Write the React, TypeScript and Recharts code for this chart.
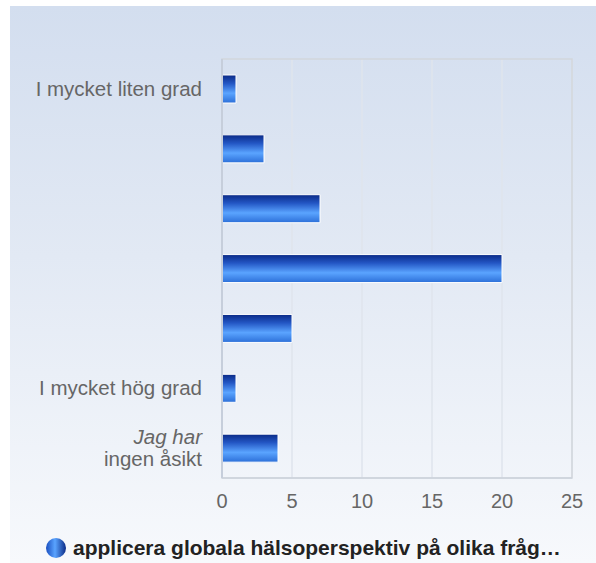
import React from "react";
import { BarChart, Bar, XAxis, YAxis, CartesianGrid, Legend, ReferenceArea } from "recharts";

const categories = ["I mycket liten grad", "", "", "", "", "I mycket hög grad", "Jag har ingen åsikt"];
const counts = [1, 3, 7, 20, 5, 1, 4];
const xTicks = [0, 5, 10, 15, 20, 25];
const seriesName = "applicera globala hälsoperspektiv på olika fråg…";

const data = categories.map((c, i) => ({ key: "c" + i, label: c, value: counts[i] }));

const FONT = "'Liberation Sans', Arial, Helvetica, sans-serif";

function CategoryTick(props: any) {
  const { y, payload } = props;
  const x = props.x - 10;
  const label = categories[payload.index];
  if (!label) return <g />;
  if (label === "Jag har ingen åsikt") {
    return (
      <text x={x} y={y} textAnchor="end" fontSize={20.5} fill="#666" fontFamily={FONT}>
        <tspan x={x} dy={-4} fontStyle="italic">Jag har</tspan>
        <tspan x={x} dy={22}>ingen åsikt</tspan>
      </text>
    );
  }
  return (
    <text x={x} y={y} dy={7} textAnchor="end" fontSize={20.5} fill="#666" fontFamily={FONT}>
      {label}
    </text>
  );
}

function LegendBox() {
  return (
    <div style={{ width: 586, height: 30, display: "flex", alignItems: "center", paddingLeft: 35, boxSizing: "border-box" }}>
      <svg width={22} height={22} style={{ marginRight: 6 }}>
        <circle cx={11} cy={11} r={10} fill="url(#legendGrad)" />
      </svg>
      <span style={{ fontFamily: FONT, fontWeight: "bold", fontSize: 21, color: "#222" }}>{seriesName}</span>
    </div>
  );
}

export default function App() {
  return (
    <div
      style={{
        position: "absolute",
        left: 10,
        top: 6,
        width: 586,
        height: 557,
        background: "linear-gradient(to bottom, #d3deef 0%, #e2e9f4 45%, #f7f9fc 100%)",
      }}
    >
      <svg width={0} height={0} style={{ position: "absolute" }}>
        <defs>
          <linearGradient id="barGrad" x1="0" y1="0" x2="0" y2="1">
            <stop offset="0%" stopColor="#0a2a86" />
            <stop offset="30%" stopColor="#2356c4" />
            <stop offset="65%" stopColor="#5aa4ff" />
            <stop offset="100%" stopColor="#2c6fd8" />
          </linearGradient>
          <linearGradient id="legendGrad" x1="0" y1="0" x2="1" y2="0">
            <stop offset="0%" stopColor="#1a4fc0" />
            <stop offset="45%" stopColor="#5aa4ff" />
            <stop offset="100%" stopColor="#0a2a86" />
          </linearGradient>
        </defs>
      </svg>
      <BarChart
        width={586}
        height={557}
        data={data}
        layout="vertical"
        margin={{ top: 53, right: 24, left: 0, bottom: 0 }}
        barCategoryGap={0}
      >
        <CartesianGrid horizontal={false} stroke="#dfe4ec" strokeWidth={1.5} />
        <ReferenceArea x1={0} x2={25} fill="none" fillOpacity={0} stroke="#d2d6dc" strokeWidth={1.5} ifOverflow="visible" />
        <XAxis
          type="number"
          domain={[0, 25]}
          ticks={xTicks}
          height={55}
          tickSize={0}
          tickMargin={16}
          axisLine={{ stroke: "#cdd3dd", strokeWidth: 1.5 }}
          tickLine={false}
          tick={{ fontSize: 20, fill: "#666", fontFamily: FONT }}
        />
        <YAxis
          type="category"
          dataKey="key"
          width={212}
          tickSize={0}
          tickMargin={10}
          axisLine={{ stroke: "#c6cedb", strokeWidth: 2 }}
          tickLine={false}
          tick={<CategoryTick />}
          interval={0}
        />
        <Legend verticalAlign="bottom" content={<LegendBox />} wrapperStyle={{ left: 0, width: 586 }} />
        <Bar
          dataKey="value"
          name={seriesName}
          barSize={28}
          fill="url(#barGrad)"
          stroke="#ffffff"
          strokeWidth={1}
          isAnimationActive={false}
        />
      </BarChart>
    </div>
  );
}
